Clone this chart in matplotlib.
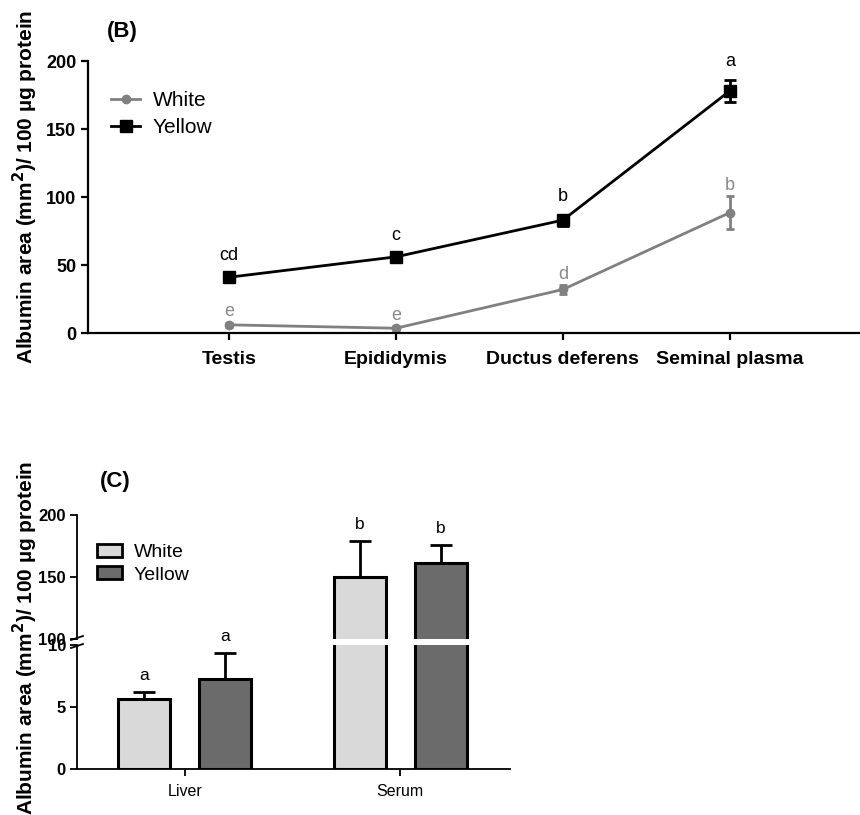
import matplotlib
matplotlib.use("Agg")
import matplotlib.pyplot as plt
from matplotlib.patches import Patch
from matplotlib.lines import Line2D
import numpy as np

plt.rcParams["font.family"] = ["Liberation Sans", "DejaVu Sans"]

# --- panel B: line plot ---
sites = ["Testis", "Epididymis", "Ductus deferens", "Seminal plasma"]
white_mean = [6, 3.5, 32, 88.5]
white_sem = [1.5, 1.5, 3, 12]
yellow_mean = [41, 56, 83, 178]
yellow_sem = [3, 2.5, 4, 8]
white_letters = ["e", "e", "d", "b"]
yellow_letters = ["cd", "c", "b", "a"]

# --- panel C: broken-axis bars ---
tissues = ["Liver", "Serum"]
white_bar = [5.65, 150]
white_bar_err = [0.55, 29]
yellow_bar = [7.25, 161]
yellow_bar_err = [2.1, 15]
white_bar_letters = ["a", "b"]
yellow_bar_letters = ["a", "b"]

W, H = 860, 815
fig = plt.figure(figsize=(W / 100, H / 100), dpi=100)


def fx(px):
    return px / W


def fy(py):
    return 1 - py / H


grey_line = "#808080"

# ---------------- panel B ----------------
ax = fig.add_axes([fx(88), fy(333), fx(860 - 88), (333 - 61) / H])
x = np.arange(len(sites))
ax.errorbar(x, white_mean, yerr=white_sem, color=grey_line, marker="o", ms=6,
            lw=2, capsize=3, elinewidth=2, capthick=2, clip_on=False)
ax.errorbar(x, yellow_mean, yerr=yellow_sem, color="black", marker="s", ms=9,
            lw=2, capsize=4, elinewidth=2, capthick=2, clip_on=False)

for i in range(len(sites)):
    ax.annotate(white_letters[i], (x[i], white_mean[i] + white_sem[i]),
                xytext=(0, 8), textcoords="offset points", ha="center", va="center",
                fontsize=13, color="#8a8a8a")
    ax.annotate(yellow_letters[i], (x[i], yellow_mean[i] + yellow_sem[i]),
                xytext=(0, 13), textcoords="offset points", ha="center", va="center",
                fontsize=13, color="black", annotation_clip=False)

ax.set_xlim(-0.845, 3.78)
ax.set_ylim(0, 200)
ax.set_yticks([0, 50, 100, 150, 200])
ax.set_xticks(x)
ax.set_xticklabels(sites, fontsize=14, fontweight="bold")
for lab in ax.get_yticklabels():
    lab.set_fontweight("bold")
    lab.set_fontsize(13)
ax.spines["top"].set_visible(False)
ax.spines["right"].set_visible(False)
for s in ["left", "bottom"]:
    ax.spines[s].set_linewidth(1.6)
ax.tick_params(axis="both", width=1.6, length=5)
ax.tick_params(axis="x", pad=8)

line_handles = [Line2D([], [], color=grey_line, marker="o", ms=6, lw=2, label="White"),
                Line2D([], [], color="black", marker="s", ms=9, lw=2, label="Yellow")]
ax.legend(handles=line_handles, loc="upper left", bbox_to_anchor=(fx(111), fy(91)),
          bbox_transform=fig.transFigure, frameon=False, fontsize=15,
          handlelength=1.4, handletextpad=0.6, borderpad=0, borderaxespad=0,
          labelspacing=0.4)

fig.text(fx(122), fy(32), "(B)", fontsize=16, fontweight="bold", ha="center", va="center")
fig.text(fx(25), fy(187), "Albumin area (mm$^\\mathbf{2}$)/ 100 µg protein", rotation=90,
         fontsize=15, fontweight="bold", ha="center", va="center")

# ---------------- panel C ----------------
ax_lo = fig.add_axes([fx(77), fy(769), fx(510 - 77), (769 - 645) / H])
ax_hi = fig.add_axes([fx(77), fy(639), fx(510 - 77), (639 - 515) / H])

xc = np.arange(len(tissues))
off = 0.188
bw = 0.242
white_fill = "#d9d9d9"
yellow_fill = "#6b6b6b"

for a in (ax_lo, ax_hi):
    a.patch.set_alpha(0)
    a.bar(xc - off, white_bar, bw, color=white_fill, edgecolor="black", linewidth=2.2, zorder=2)
    a.bar(xc + off, yellow_bar, bw, color=yellow_fill, edgecolor="black", linewidth=2.2, zorder=2)
    a.errorbar(xc - off, white_bar, yerr=[np.zeros(len(tissues)), white_bar_err], fmt="none",
               ecolor="black", elinewidth=2, capsize=8, capthick=2, zorder=1)
    a.errorbar(xc + off, yellow_bar, yerr=[np.zeros(len(tissues)), yellow_bar_err], fmt="none",
               ecolor="black", elinewidth=2, capsize=8, capthick=2, zorder=1)
    a.set_xlim(-0.5, 1.51)
    a.spines["right"].set_visible(False)
    a.spines["top"].set_visible(False)
    for s in ["left", "bottom"]:
        a.spines[s].set_linewidth(1.3)

ax_lo.set_ylim(0, 10)
ax_lo.set_yticks([0, 5, 10])
ax_hi.set_ylim(100, 200)
ax_hi.set_yticks([100, 150, 200])
ax_hi.spines["bottom"].set_visible(False)
ax_hi.set_xticks([])
ax_lo.set_xticks(xc)
ax_lo.set_xticklabels(tissues, fontsize=11.5)
ax_lo.tick_params(axis="x", width=1.3, length=5, pad=6)
for a in (ax_lo, ax_hi):
    a.tick_params(axis="y", width=1.3, length=5, pad=3)
    for lab in a.get_yticklabels():
        lab.set_fontweight("bold")
        lab.set_fontsize(12)

for i in range(len(tissues)):
    for pos, mean, err, letter in ((xc[i] - off, white_bar[i], white_bar_err[i], white_bar_letters[i]),
                                   (xc[i] + off, yellow_bar[i], yellow_bar_err[i], yellow_bar_letters[i])):
        a = ax_lo if mean + err <= 10 else ax_hi
        a.annotate(letter, (pos, mean + err), xytext=(0, 12), textcoords="offset points",
                   ha="center", va="center", fontsize=12.5, annotation_clip=False)

# break marks on the y axis
for py in (638, 646):
    fig.add_artist(Line2D([fx(71), fx(83)], [fy(py + 2), fy(py - 2)], color="black", lw=1.3))

ax_hi.legend(handles=[Patch(facecolor=white_fill, edgecolor="black", linewidth=2, label="White"),
                      Patch(facecolor=yellow_fill, edgecolor="black", linewidth=2, label="Yellow")],
             loc="upper left", bbox_to_anchor=(fx(97), fy(544)), bbox_transform=fig.transFigure,
             frameon=False, fontsize=14, handlelength=1.3, handleheight=0.65, handletextpad=0.6,
             borderpad=0, borderaxespad=0, labelspacing=0.25)

fig.text(fx(115), fy(482), "(C)", fontsize=16, fontweight="bold", ha="center", va="center")
fig.text(fx(25), fy(638), "Albumin area (mm$^\\mathbf{2}$)/ 100 µg protein", rotation=90,
         fontsize=15, fontweight="bold", ha="center", va="center")

fig.savefig("out.png", dpi=100)
